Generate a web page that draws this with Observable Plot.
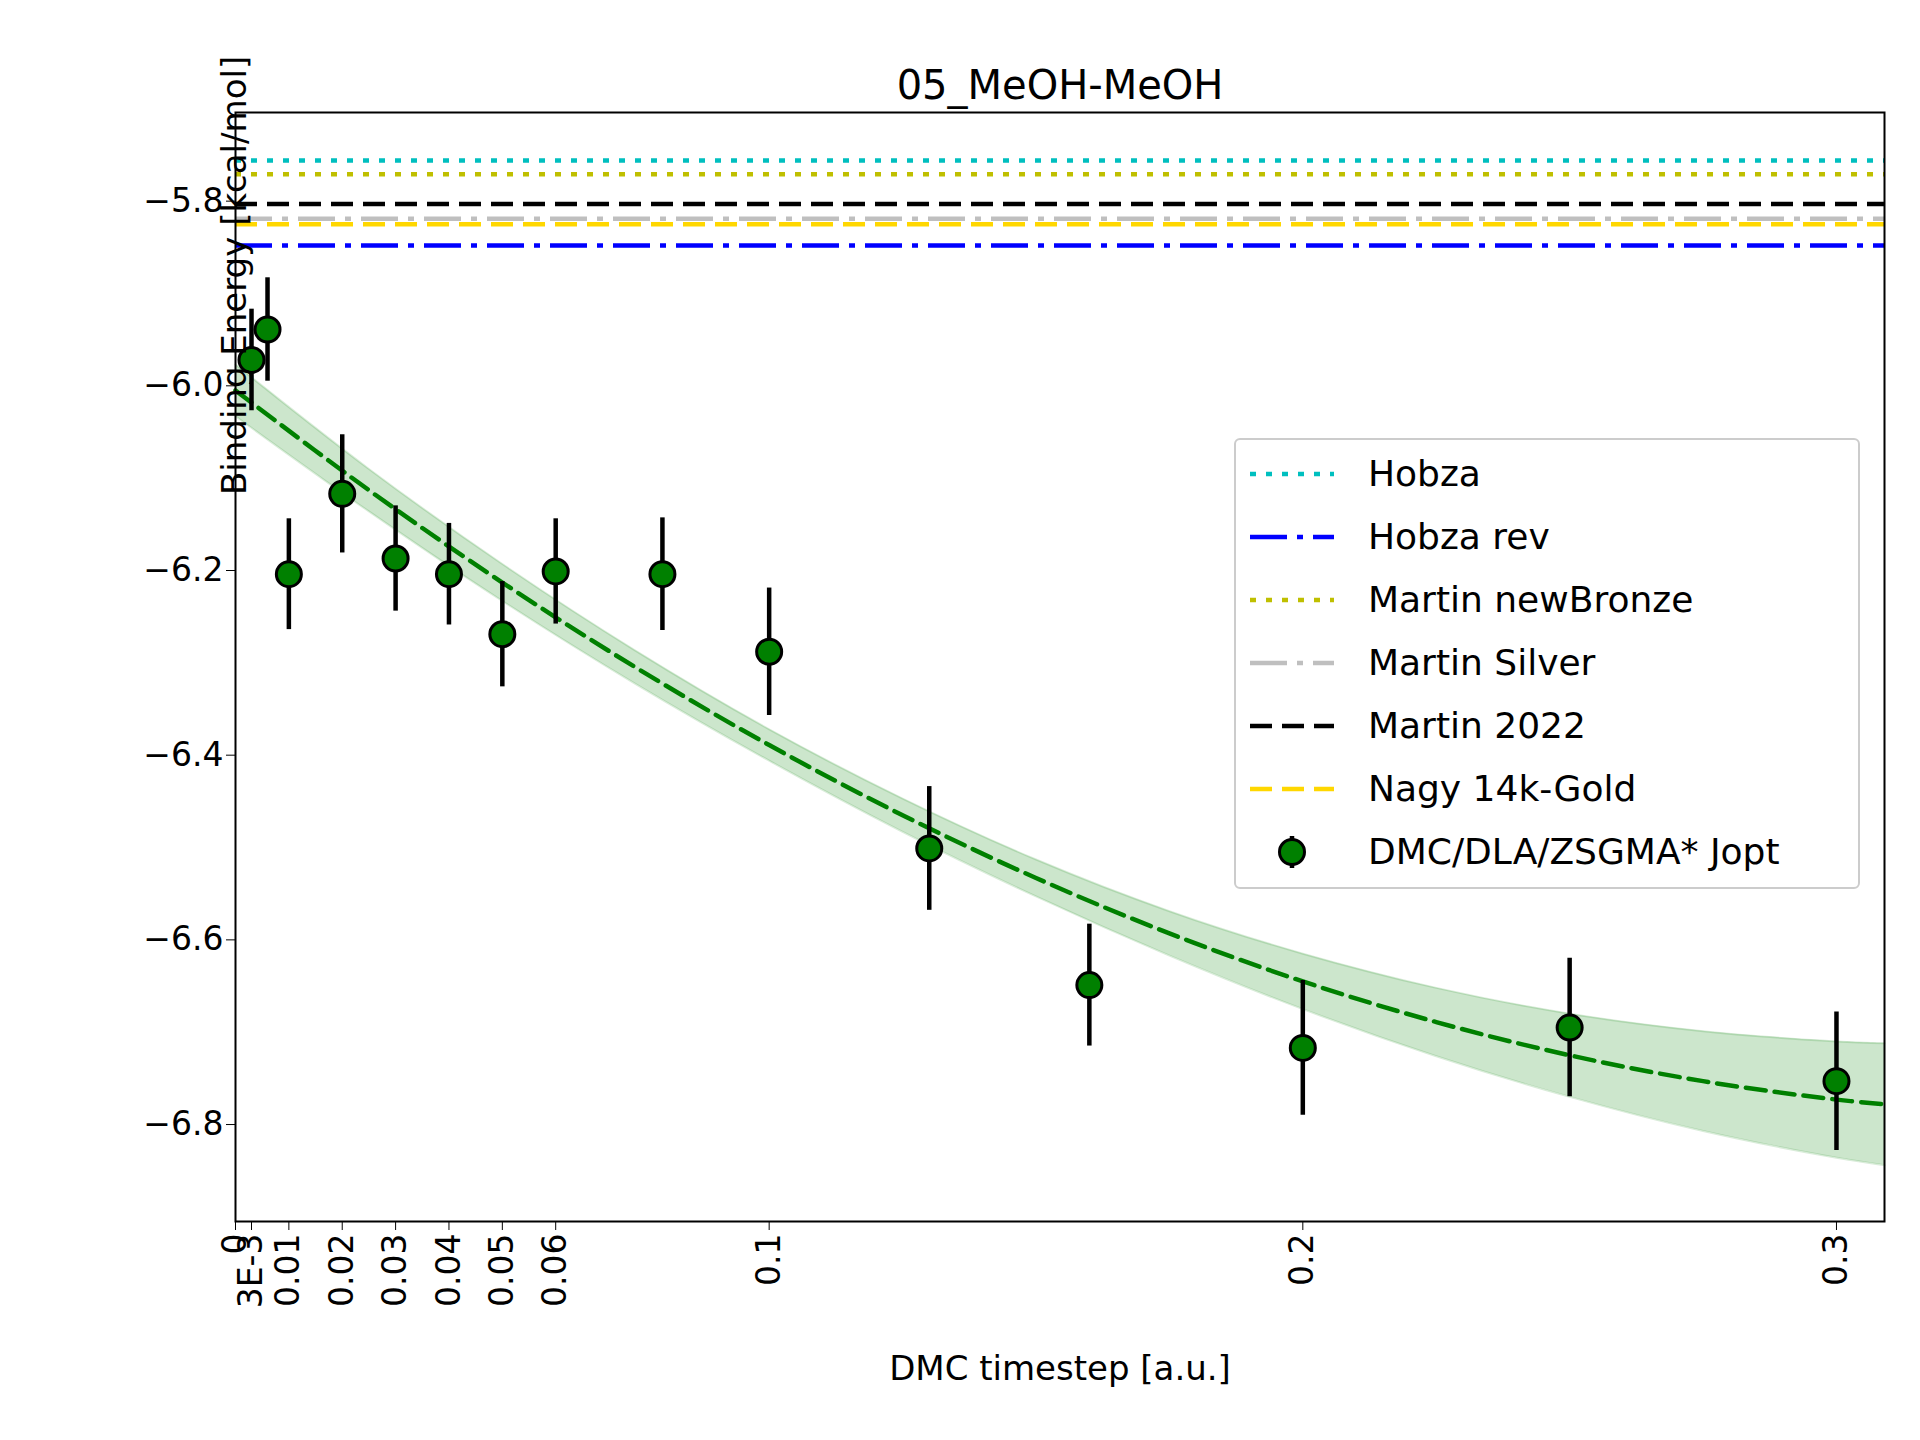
<!DOCTYPE html>
<html>
<head>
<meta charset="utf-8">
<script src="https://cdn.jsdelivr.net/npm/d3@7"></script>
<script src="https://cdn.jsdelivr.net/npm/@observablehq/plot@0.6"></script>
<style>
  body { margin: 0; background: #fff; font-family: "DejaVu Sans", sans-serif; }
  #wrap { position: relative; width: 1920px; height: 1440px; }
  #legend { position: absolute; left: 1234px; top: 438px; width: 626px; height: 451px;
    border: 2px solid #ccc; border-radius: 6px; background: rgba(255,255,255,0.8); box-sizing: border-box;
    padding: 2px 0 0 14px; font-size: 36px; }
  .row { display: flex; align-items: center; height: 63px; }
  .row svg { margin-right: 34px; }
</style>
</head>
<body>
<div id="wrap"><div id="chart"></div><div id="legend"></div></div>
<script>
// reference lines
const refNames = ["Hobza", "Hobza rev", "Martin newBronze", "Martin Silver", "Martin 2022", "Nagy 14k-Gold"];
const refValues = [-5.756, -5.848, -5.771, -5.819, -5.803, -5.825];
const refColors = ["#00bfbf", "#0000ff", "#bfbf00", "#bfbfbf", "#000000", "#ffd700"];
const refDash = ["6,10", "37,10,6,10", "6,10", "37,10,6,10", "22,10", "22,10"];

// DMC points
const steps = [0.003, 0.006, 0.01, 0.02, 0.03, 0.04, 0.05, 0.06, 0.08, 0.1, 0.13, 0.16, 0.2, 0.25, 0.3];
const energies = [-5.972, -5.939, -6.204, -6.117, -6.187, -6.204, -6.269, -6.201, -6.204, -6.288, -6.501, -6.649, -6.717, -6.695, -6.753];
const errors = [0.055, 0.056, 0.06, 0.064, 0.057, 0.055, 0.057, 0.057, 0.061, 0.069, 0.067, 0.066, 0.073, 0.075, 0.075];

// fit curve and band
const fitX = [0, 0.025, 0.05, 0.075, 0.1, 0.125, 0.15, 0.175, 0.2, 0.225, 0.25, 0.275, 0.3, 0.309];
const fitY = [-6.005, -6.113, -6.213, -6.305, -6.389, -6.465, -6.533, -6.593, -6.645, -6.689, -6.725, -6.753, -6.773, -6.778];
const fitHalf = [0.028, 0.023, 0.02, 0.018, 0.017, 0.018, 0.02, 0.024, 0.03, 0.037, 0.045, 0.054, 0.063, 0.066];

const xTicks = [0, 0.003, 0.01, 0.02, 0.03, 0.04, 0.05, 0.06, 0.1, 0.2, 0.3];
const xTickLabels = ["0", "3E-3", "0.01", "0.02", "0.03", "0.04", "0.05", "0.06", "0.1", "0.2", "0.3"];

const points = steps.map((s, i) => ({s, e: energies[i], lo: energies[i] - errors[i], hi: energies[i] + errors[i]}));
const fit = fitX.map((x, i) => ({x, y: fitY[i], lo: fitY[i] - fitHalf[i], hi: fitY[i] + fitHalf[i]}));
const refs = refNames.map((name, i) => ({name, v: refValues[i], color: refColors[i], dash: refDash[i]}));

const chart = Plot.plot({
  width: 1920,
  height: 1440,
  marginLeft: 235,
  marginRight: 36,
  marginTop: 112,
  marginBottom: 219,
  style: {fontFamily: "DejaVu Sans", fontSize: "33px", color: "#000", background: "#fff"},
  x: {domain: [0, 0.309], ticks: xTicks, tickFormat: (d) => xTickLabels[xTicks.indexOf(d)],
      tickRotate: -90, tickSize: 9, label: null},
  y: {domain: [-6.905, -5.704], ticks: [-5.8, -6.0, -6.2, -6.4, -6.6, -6.8],
      tickFormat: (d) => d3.format(".1f")(d).replace("-", "\u2212"), tickSize: 9, label: null},
  marks: [
    Plot.areaY(fit, {x: "x", y1: "lo", y2: "hi", fill: "green", fillOpacity: 0.2, curve: "catmull-rom"}),
    Plot.line(fit, {x: "x", y: "lo", stroke: "green", strokeOpacity: 0.15, strokeWidth: 2, curve: "catmull-rom"}),
    Plot.line(fit, {x: "x", y: "hi", stroke: "green", strokeOpacity: 0.15, strokeWidth: 2, curve: "catmull-rom"}),
    Plot.line(fit, {x: "x", y: "y", stroke: "green", strokeWidth: 4.5, strokeDasharray: "20,9", curve: "catmull-rom"}),
    ...refs.map((r) => Plot.ruleY([r.v], {stroke: r.color, strokeWidth: 4.5, strokeDasharray: r.dash})),
    Plot.ruleX(points, {x: "s", y1: "lo", y2: "hi", stroke: "black", strokeWidth: 4.5}),
    Plot.dot(points, {x: "s", y: "e", r: 12.5, fill: "green", stroke: "black", strokeWidth: 3}),
    Plot.frame({stroke: "black", strokeWidth: 2}),
    Plot.text(["05_MeOH-MeOH"], {frameAnchor: "top", dy: -42, fontSize: 40, fill: "black"}),
    Plot.text(["DMC timestep [a.u.]"], {frameAnchor: "bottom", dy: 158, fontSize: 34, fill: "black"}),
    Plot.text(["Binding Energy [kcal/mol]"], {frameAnchor: "left", dy: -172, rotate: -90, fontSize: 34, fill: "black"})
  ]
});
document.getElementById("chart").append(chart);

// legend
const legend = document.getElementById("legend");
refs.forEach((r) => {
  const row = document.createElement("div");
  row.className = "row";
  row.innerHTML = `<svg width="84" height="20"><line x1="0" x2="84" y1="10" y2="10" stroke="${r.color}" stroke-width="4.5" stroke-dasharray="${r.dash}"/></svg>${r.name}`;
  legend.append(row);
});
const dmcRow = document.createElement("div");
dmcRow.className = "row";
dmcRow.innerHTML = `<svg width="84" height="40"><line x1="42" x2="42" y1="4" y2="36" stroke="black" stroke-width="4.5"/><circle cx="42" cy="20" r="12.5" fill="green" stroke="black" stroke-width="3"/></svg>DMC/DLA/ZSGMA* Jopt`;
legend.append(dmcRow);
</script>
</body>
</html>
